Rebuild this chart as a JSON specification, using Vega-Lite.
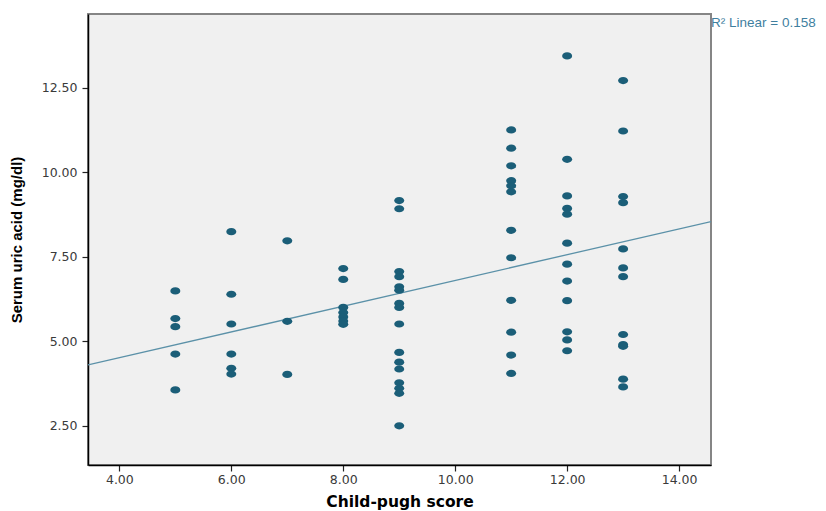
{
  "$schema": "https://vega.github.io/schema/vega-lite/v6.json",
  "width": 623,
  "height": 451,
  "autosize": "none",
  "padding": {"left": 88, "top": 14, "right": 115, "bottom": 46},
  "background": "#ffffff",
  "config": {
    "view": {"fill": "#f0f0f0", "stroke": "#858585", "strokeWidth": 2},
    "axis": {
      "grid": false,
      "domainColor": "#000000",
      "domainWidth": 1.5,
      "tickColor": "#222222",
      "tickSize": 6,
      "tickWidth": 1.2,
      "labelFont": "DejaVu Sans",
      "labelFontSize": 12.5,
      "labelColor": "#3a3a3a",
      "titleColor": "#000000"
    }
  },
  "datasets": {
    "points": [
      {"score": 5, "uric": 6.49}, {"score": 5, "uric": 5.67}, {"score": 5, "uric": 5.43}, {"score": 5, "uric": 4.62}, {"score": 5, "uric": 3.56},
      {"score": 6, "uric": 8.24}, {"score": 6, "uric": 6.39}, {"score": 6, "uric": 5.51}, {"score": 6, "uric": 4.62}, {"score": 6, "uric": 4.2}, {"score": 6, "uric": 4.03},
      {"score": 7, "uric": 7.97}, {"score": 7, "uric": 5.59}, {"score": 7, "uric": 4.02},
      {"score": 8, "uric": 7.15}, {"score": 8, "uric": 6.83}, {"score": 8, "uric": 6.0}, {"score": 8, "uric": 5.85}, {"score": 8, "uric": 5.72}, {"score": 8, "uric": 5.6}, {"score": 8, "uric": 5.5},
      {"score": 9, "uric": 9.16}, {"score": 9, "uric": 8.92}, {"score": 9, "uric": 7.06}, {"score": 9, "uric": 6.91}, {"score": 9, "uric": 6.61}, {"score": 9, "uric": 6.51}, {"score": 9, "uric": 6.12}, {"score": 9, "uric": 6.0}, {"score": 9, "uric": 5.51}, {"score": 9, "uric": 4.67}, {"score": 9, "uric": 4.38}, {"score": 9, "uric": 4.18}, {"score": 9, "uric": 3.77}, {"score": 9, "uric": 3.61}, {"score": 9, "uric": 3.46}, {"score": 9, "uric": 2.5},
      {"score": 11, "uric": 11.25}, {"score": 11, "uric": 10.71}, {"score": 11, "uric": 10.19}, {"score": 11, "uric": 9.75}, {"score": 11, "uric": 9.6}, {"score": 11, "uric": 9.42}, {"score": 11, "uric": 8.28}, {"score": 11, "uric": 7.47}, {"score": 11, "uric": 6.21}, {"score": 11, "uric": 5.27}, {"score": 11, "uric": 4.59}, {"score": 11, "uric": 4.05},
      {"score": 12, "uric": 13.44}, {"score": 12, "uric": 10.38}, {"score": 12, "uric": 9.3}, {"score": 12, "uric": 8.93}, {"score": 12, "uric": 8.76}, {"score": 12, "uric": 7.9}, {"score": 12, "uric": 7.28}, {"score": 12, "uric": 6.78}, {"score": 12, "uric": 6.2}, {"score": 12, "uric": 5.28}, {"score": 12, "uric": 5.04}, {"score": 12, "uric": 4.72},
      {"score": 13, "uric": 12.71}, {"score": 13, "uric": 11.22}, {"score": 13, "uric": 9.28}, {"score": 13, "uric": 9.1}, {"score": 13, "uric": 7.73}, {"score": 13, "uric": 7.17}, {"score": 13, "uric": 6.91}, {"score": 13, "uric": 5.2}, {"score": 13, "uric": 4.9}, {"score": 13, "uric": 4.85}, {"score": 13, "uric": 3.88}, {"score": 13, "uric": 3.65}
    ],
    "fit": [
      {"score": 3.44, "uric": 4.3},
      {"score": 14.57, "uric": 8.54}
    ],
    "note": [
      {"label": "R² Linear = 0.158"}
    ]
  },
  "layer": [
    {
      "data": {"name": "fit"},
      "mark": {"type": "line", "color": "#5b91a8", "strokeWidth": 1.3, "clip": true},
      "encoding": {
        "x": {
          "field": "score", "type": "quantitative",
          "scale": {"domain": [3.44, 14.57], "nice": false, "zero": false},
          "axis": {
            "values": [4, 6, 8, 10, 12, 14], "format": ".2f",
            "title": "Child-pugh score",
            "titleFont": "DejaVu Sans", "titleFontSize": 15.5, "titleFontWeight": "bold",
            "titlePadding": 9, "labelPadding": 2
          }
        },
        "y": {
          "field": "uric", "type": "quantitative",
          "scale": {"domain": [1.34, 14.68], "nice": false, "zero": false},
          "axis": {
            "values": [2.5, 5, 7.5, 10, 12.5], "format": ".2f",
            "title": "Serum uric acid (mg/dl)",
            "titleFont": "Liberation Sans", "titleFontSize": 15, "titleFontWeight": "bold",
            "titlePadding": 17, "labelPadding": 5
          }
        }
      }
    },
    {
      "data": {"name": "points"},
      "mark": {
        "type": "point", "filled": true, "opacity": 1,
        "color": "#1b5e78",
        "shape": "M-1,0A1,0.72 0 1,1 1,0A1,0.72 0 1,1 -1,0Z",
        "size": 100
      },
      "encoding": {
        "x": {"field": "score", "type": "quantitative"},
        "y": {"field": "uric", "type": "quantitative"}
      }
    },
    {
      "data": {"name": "note"},
      "mark": {
        "type": "text", "align": "left", "baseline": "middle",
        "font": "Liberation Sans", "fontSize": 13.5, "color": "#3f7f9f",
        "clip": false, "dx": 0
      },
      "encoding": {
        "x": {"datum": 14.57, "type": "quantitative"},
        "y": {"datum": 14.4, "type": "quantitative"},
        "text": {"field": "label"}
      }
    }
  ]
}
